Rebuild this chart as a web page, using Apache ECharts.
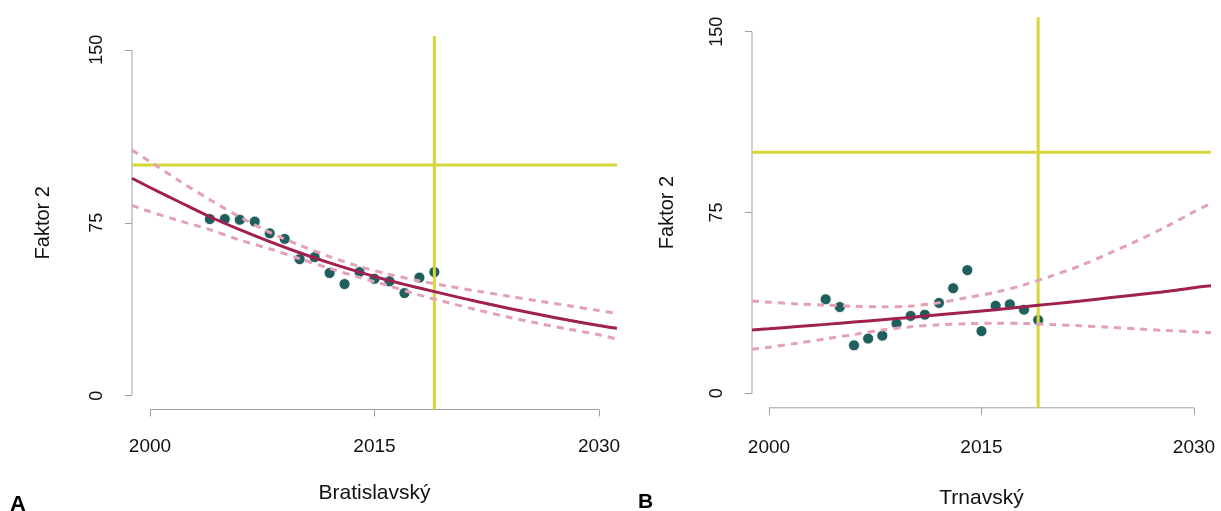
<!DOCTYPE html>
<html>
<head>
<meta charset="utf-8">
<script src="https://cdn.jsdelivr.net/npm/echarts@6/dist/echarts.min.js"></script>
<style>
  html, body { margin: 0; padding: 0; background: #ffffff; }
  #chart { width: 1221px; height: 511px; }
</style>
</head>
<body>
<div id="chart"></div>
<script>
// ---------- DATA ----------
const panelTitles = ['Bratislavský', 'Trnavský'];
const panelLetters = ['A', 'B'];
const yAxisTitle = 'Faktor 2';
const xTickValues = [2000, 2015, 2030];
const yTickValues = [0, 75, 150];
const xRange = [1998.8, 2031.2];
const yRange = [-6, 156];
const referenceYear = 2019;
const referenceLevel = 100;

// observed points
const obsYears = [2004, 2005, 2006, 2007, 2008, 2009, 2010, 2011, 2012, 2013, 2014, 2015, 2016, 2017, 2018, 2019];
const obsBratislavsky = [76.6, 76.6, 76.3, 75.5, 70.4, 68.0, 59.2, 60.1, 53.2, 48.4, 53.6, 50.7, 49.6, 44.5, 51.2, 53.6];
const obsTrnavsky = [39.0, 35.8, 19.9, 22.7, 23.9, 28.9, 32.1, 32.6, 37.5, 43.6, 51.1, 25.8, 36.3, 36.9, 34.7, 30.4];

// fitted trend and confidence band
const curveYears = [1998.8, 2000, 2002, 2004, 2006, 2008, 2010, 2012, 2014, 2016, 2018, 2020, 2022, 2024, 2026, 2028, 2030, 2031.2];
const fitBratislavsky   = [94.3, 90.3, 83.9, 77.6, 72.0, 66.8, 62.0, 57.6, 53.6, 49.9, 46.7, 43.6, 40.6, 37.8, 35.2, 32.7, 30.4, 29.2];
const upperBratislavsky = [106.5, 101.5, 93.0, 85.0, 77.5, 70.8, 65.3, 60.3, 56.0, 52.6, 49.8, 47.4, 45.2, 43.1, 41.0, 39.0, 36.9, 35.7];
const lowerBratislavsky = [82.5, 79.8, 75.8, 72.0, 67.5, 63.7, 59.4, 55.2, 51.3, 47.6, 43.6, 40.2, 37.0, 34.0, 31.3, 28.8, 26.4, 24.5];
const fitTrnavsky   = [26.3, 26.8, 27.7, 28.6, 29.6, 30.5, 31.5, 32.6, 33.6, 34.7, 35.9, 37.1, 38.3, 39.6, 40.9, 42.2, 43.8, 44.6];
const upperTrnavsky = [38.3, 37.8, 37.1, 36.6, 36.1, 35.9, 36.2, 37.6, 39.7, 41.9, 45.0, 48.8, 53.0, 58.0, 63.3, 69.0, 75.3, 78.8];
const lowerTrnavsky = [18.3, 19.1, 20.8, 22.6, 24.4, 26.3, 27.6, 28.4, 28.9, 29.1, 29.0, 28.5, 28.0, 27.4, 26.7, 26.1, 25.5, 25.1];

// ---------- STYLE ----------
const FONT = 'Liberation Sans, Arial, sans-serif';
const C_POINT = '#1f5f5e';
const C_FIT = '#a0204f';
const C_CI = '#e3a0b6';
const C_REF = '#d4d63b';
const C_AXIS = '#a0a0a0';

const zip = (xs, ys) => xs.map((x, i) => [x, ys[i]]);
const plain = v => String(v);

const grids = [
  { left: 132, top: 36, width: 485, height: 373.5, outerBoundsMode: 'none', containLabel: false },
  { left: 752, top: 17.2, width: 459, height: 390.6, outerBoundsMode: 'none', containLabel: false }
];
const xNameGap = [73, 80];
const xLabelMargin = [28, 30];
const yNameGap = [79, 75];
const panels = [
  { obs: obsBratislavsky, fit: fitBratislavsky, up: upperBratislavsky, lo: lowerBratislavsky },
  { obs: obsTrnavsky, fit: fitTrnavsky, up: upperTrnavsky, lo: lowerTrnavsky }
];

const xAxes = [], yAxes = [], series = [];
panels.forEach((p, i) => {
  xAxes.push({
    type: 'value', gridIndex: i, min: xRange[0], max: xRange[1],
    axisLine: { show: false, onZero: false },
    splitLine: { show: false },
    axisTick: { show: true, inside: false, length: 7, lineStyle: { color: C_AXIS, width: 1 }, customValues: xTickValues },
    axisLabel: { show: true, customValues: xTickValues, formatter: plain, margin: xLabelMargin[i], fontFamily: FONT, fontSize: 19, color: '#111' },
    name: panelTitles[i], nameLocation: 'middle', nameGap: xNameGap[i],
    nameTextStyle: { fontFamily: FONT, fontSize: 21, color: '#111' }
  });
  yAxes.push({
    type: 'value', gridIndex: i, min: yRange[0], max: yRange[1],
    axisLine: { show: false, onZero: false },
    splitLine: { show: false },
    axisTick: { show: true, inside: false, length: 7, lineStyle: { color: C_AXIS, width: 1 }, customValues: yTickValues },
    axisLabel: { show: true, customValues: yTickValues, formatter: plain, rotate: 90, margin: 26, fontFamily: FONT, fontSize: 18, color: '#111' },
    name: yAxisTitle, nameLocation: 'middle', nameRotate: 90, nameGap: yNameGap[i],
    nameTextStyle: { fontFamily: FONT, fontSize: 20, color: '#111' }
  });
  const base = { xAxisIndex: i, yAxisIndex: i, type: 'line', symbol: 'none', silent: true, clip: false, animation: false };
  // axis lines (only over the tick range, as in the reference)
  series.push(Object.assign({}, base, {
    data: [[xTickValues[0], yRange[0]], [xTickValues[xTickValues.length - 1], yRange[0]]],
    lineStyle: { color: C_AXIS, width: 1 }
  }));
  series.push(Object.assign({}, base, {
    data: [[xRange[0], yTickValues[0]], [xRange[0], yTickValues[yTickValues.length - 1]]],
    lineStyle: { color: C_AXIS, width: 1 }
  }));
  // reference lines
  series.push(Object.assign({}, base, {
    data: [[referenceYear, yRange[0]], [referenceYear, yRange[1]]],
    lineStyle: { color: C_REF, width: 3 }
  }));
  series.push(Object.assign({}, base, {
    data: [[xRange[0], referenceLevel], [xRange[1], referenceLevel]],
    lineStyle: { color: C_REF, width: 3 }
  }));
  // confidence band
  series.push(Object.assign({}, base, {
    data: zip(curveYears, p.up), smooth: 0.3,
    lineStyle: { color: C_CI, width: 3, type: [7, 6] }
  }));
  series.push(Object.assign({}, base, {
    data: zip(curveYears, p.lo), smooth: 0.3,
    lineStyle: { color: C_CI, width: 3, type: [7, 6] }
  }));
  // fitted trend
  series.push(Object.assign({}, base, {
    data: zip(curveYears, p.fit), smooth: 0.3,
    lineStyle: { color: C_FIT, width: 3 }
  }));
  // observations
  series.push({
    type: 'scatter', xAxisIndex: i, yAxisIndex: i, silent: true, animation: false,
    data: zip(obsYears, p.obs), symbolSize: 11,
    itemStyle: { color: C_POINT, borderColor: '#ffffff', borderWidth: 0.8, opacity: 1 }
  });
});

const chart = echarts.init(document.getElementById('chart'), null, { renderer: 'canvas' });
chart.setOption({
  backgroundColor: '#ffffff',
  animation: false,
  grid: grids,
  xAxis: xAxes,
  yAxis: yAxes,
  series: series,
  graphic: [
    { type: 'text', left: 10, top: 494, style: { text: panelLetters[0], font: 'bold 22px ' + FONT, fill: '#000' } },
    { type: 'text', left: 638, top: 492, style: { text: panelLetters[1], font: 'bold 21px ' + FONT, fill: '#000' } }
  ]
});
</script>
</body>
</html>
